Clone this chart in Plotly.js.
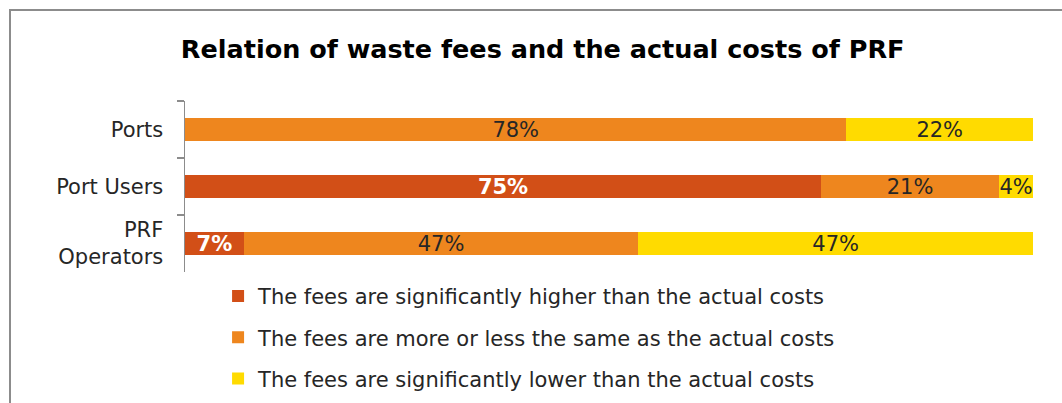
<!DOCTYPE html>
<html>
<head>
<meta charset="utf-8">
<script src="https://cdn.plot.ly/plotly-3.0.1.min.js"></script>
<style>
  html, body { margin: 0; padding: 0; background: #fff; }
  #wrap { position: relative; width: 1062px; height: 403px; overflow: hidden; }
  #chart { position: absolute; left: 0; top: 0; width: 1062px; height: 403px; }
  #frame { position: absolute; left: 9px; top: 9px; width: 1200px; height: 600px;
           border-left: 2px solid #8c8c8c; border-top: 2px solid #8c8c8c; pointer-events: none; }
</style>
</head>
<body>
<div id="wrap">
  <div id="chart"></div>
  <div id="frame"></div>
</div>
<script>
const categories = ['Ports', 'Port Users', 'PRF<br>Operators'];
const seriesNames = [
  'The fees are significantly higher than the actual costs',
  'The fees are more or less the same as the actual costs',
  'The fees are significantly lower than the actual costs'
];
const higher = [0, 75, 7];
const same = [78, 21, 47];
const lower = [22, 4, 47];
const colors = ['#D24F17', '#EE861E', '#FFDB00'];

const FONT = 'DejaVu Sans, Verdana, sans-serif';

function mk(vals, i, bold) {
  return {
    type: 'bar',
    orientation: 'h',
    name: seriesNames[i],
    legendgroup: 'g' + i,
    y: categories,
    x: vals,
    text: vals.map(v => v > 0 ? v + '%' : ''),
    textposition: 'inside',
    insidetextanchor: 'middle',
    textangle: 0,
    constraintext: 'none',
    cliponaxis: false,
    textfont: bold
      ? { family: FONT, size: 21, color: '#ffffff', weight: 'bold' }
      : { family: FONT, size: 21, color: '#262626' },
    marker: { color: colors[i], line: { width: 0 } },
    hoverinfo: 'skip'
  };
}

const data = [mk(higher, 0, true), mk(same, 1, false), mk(lower, 2, false)];

const layout = {
  width: 1062,
  height: 403,
  margin: { l: 185, r: 29, t: 101, b: 131, pad: 0, autoexpand: false },
  paper_bgcolor: '#ffffff',
  plot_bgcolor: '#ffffff',
  barmode: 'stack',
  barnorm: 'percent',
  bargap: 0.6,
  showlegend: true,
  title: {
    text: '<b>Relation of waste fees and the actual costs of PRF</b>',
    font: { family: FONT, size: 25.5, color: '#000000' },
    xref: 'container', x: 0.511, xanchor: 'center',
    yref: 'container', y: 0.878, yanchor: 'middle'
  },
  xaxis: {
    range: [0, 100],
    visible: false,
    fixedrange: true
  },
  yaxis: {
    type: 'category',
    autorange: 'reversed',
    showline: true,
    linecolor: '#8c8c8c',
    linewidth: 1.5,
    ticks: 'outside',
    tickson: 'boundaries',
    ticklen: 7,
    tickcolor: '#8c8c8c',
    tickwidth: 1.5,
    ticklabelstandoff: 16,
    showgrid: false,
    zeroline: false,
    tickfont: { family: FONT, size: 21, color: '#262626' },
    fixedrange: true
  },
  legend: {
    orientation: 'v',
    traceorder: 'grouped',
    tracegroupgap: 11,
    xref: 'paper', yref: 'paper',
    x: 0.039, xanchor: 'left',
    y: -0.0225, yanchor: 'top',
    font: { family: FONT, size: 21, color: '#262626' },
    bgcolor: 'rgba(0,0,0,0)',
    borderwidth: 0,
    itemwidth: 30,
    itemclick: false,
    itemdoubleclick: false
  }
};

Plotly.newPlot('chart', data, layout, { staticPlot: true, displayModeBar: false });
</script>
</body>
</html>
